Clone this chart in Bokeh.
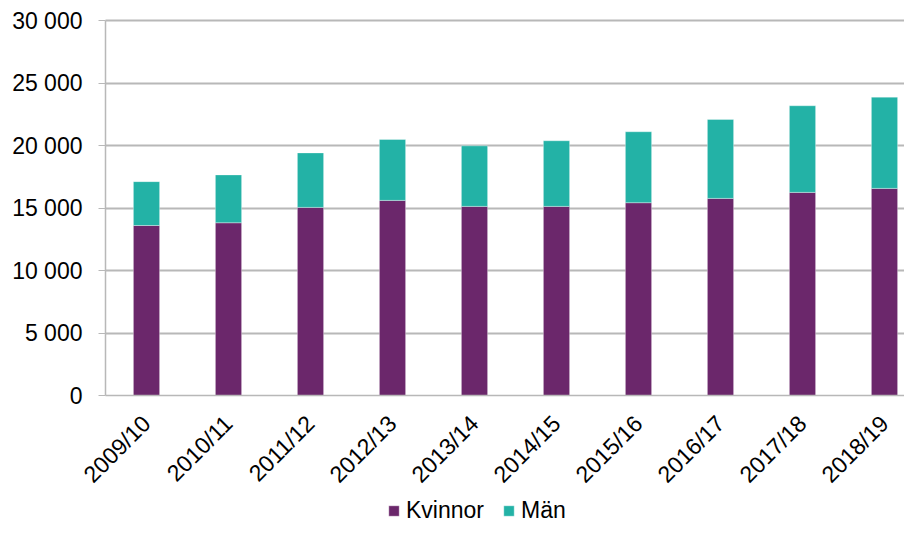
from math import pi
from bokeh.plotting import figure
from bokeh.models import Range1d, FixedTicker, Legend, LegendItem, ColumnDataSource
from bokeh.embed import file_html
from bokeh.resources import INLINE

years = ["2009/10", "2010/11", "2011/12", "2012/13", "2013/14",
         "2014/15", "2015/16", "2016/17", "2017/18", "2018/19"]
kvinnor = [13600, 13820, 15050, 15610, 15130, 15130, 15425, 15770, 16250, 16570]
man = [3510, 3830, 4360, 4870, 4845, 5250, 5675, 6315, 6930, 7300]
y_ticks = [0, 5000, 10000, 15000, 20000, 25000, 30000]
y_tick_labels = ["0", "5 000", "10 000", "15 000", "20 000", "25 000", "30 000"]

PURPLE = "#6B276B"
TEAL = "#23B2A6"
GRID = "#B8B8B8"
FONT = "Liberation Sans"

xs = list(range(len(years)))
src = ColumnDataSource(dict(x=xs, Kvinnor=kvinnor, Man=man))

X0, X1 = -0.5, 9.244          # value-area extent along x
# the frame covers the whole canvas; axes are pinned inside it
p = figure(width=904, height=524, output_backend="svg", toolbar_location=None,
           x_range=Range1d(-1.7805, X1), y_range=Range1d(-10320, 31600),
           min_border_left=0, min_border_right=0, min_border_top=0,
           min_border_bottom=0)
p.outline_line_color = None

r = p.vbar_stack(["Kvinnor", "Man"], x="x", width=0.32, color=[PURPLE, TEAL],
                 line_color="white", line_alpha=0.35, line_width=1, source=src)

# axes
p.xaxis.fixed_location = 0
p.xaxis.bounds = (X0, X1)
p.xaxis.ticker = FixedTicker(ticks=xs)
p.xaxis.major_label_overrides = {i: lab for i, lab in enumerate(years)}
p.xaxis.major_label_orientation = pi / 4
p.xaxis.major_tick_line_color = None
p.xaxis.minor_tick_line_color = None
p.xaxis.axis_line_color = GRID
p.xaxis.axis_line_width = 1.5
p.xaxis.major_label_standoff = 18

p.yaxis.fixed_location = X0
p.yaxis.bounds = (0, 30000)
p.yaxis.ticker = FixedTicker(ticks=y_ticks)
p.yaxis.major_label_overrides = {t: lab for t, lab in zip(y_ticks, y_tick_labels)}
p.yaxis.major_tick_out = 7
p.yaxis.major_tick_in = 0
p.yaxis.major_tick_line_color = GRID
p.yaxis.minor_tick_line_color = None
p.yaxis.axis_line_color = GRID
p.yaxis.axis_line_width = 1.5
p.yaxis.major_label_standoff = 16

for ax in (p.xaxis, p.yaxis):
    ax.major_label_text_font = FONT
    ax.major_label_text_font_size = "23px"
    ax.major_label_text_color = "#000000"

p.xgrid.grid_line_color = None
p.ygrid.grid_line_color = GRID
p.ygrid.grid_line_width = 2
p.ygrid.ticker = FixedTicker(ticks=y_ticks[1:])
p.ygrid.cross_bounds = (X0, X1)

legend = Legend(items=[LegendItem(label="Kvinnor", renderers=[r[0]]),
                       LegendItem(label="Män", renderers=[r[1]])],
                location=(387, 0), orientation="horizontal",
                border_line_color=None, background_fill_alpha=0,
                padding=0, margin=0, spacing=18, label_standoff=6,
                glyph_width=13, glyph_height=13,
                label_text_font=FONT, label_text_font_size="23px",
                label_text_color="#000000")
p.add_layout(legend, "center")

open("out.html", "w").write(file_html(p, INLINE))
